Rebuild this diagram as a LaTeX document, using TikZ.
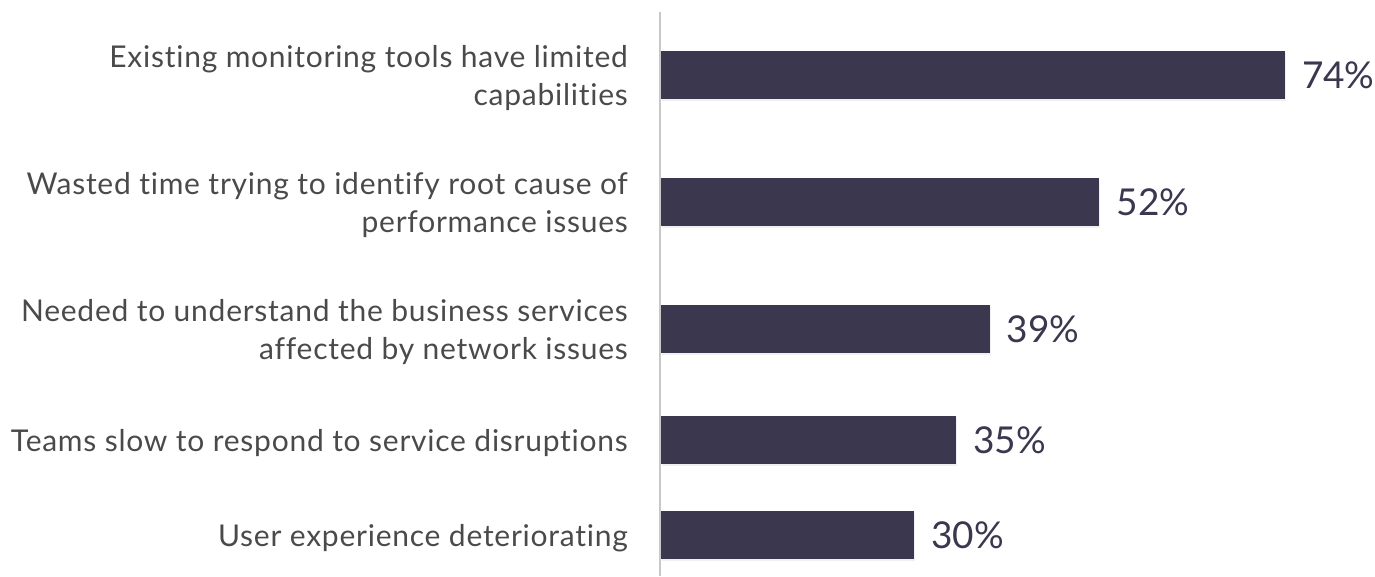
\documentclass[tikz,border=0pt]{standalone}
\usepackage{fontspec}
\setmainfont{Lato}
\newfontfamily\lblfont[LetterSpace=2.5, Ligatures={NoCommon}]{Lato}
\usepackage{tikz}
\usetikzlibrary{shadows}

\definecolor{barcol}{HTML}{3A374F}
\definecolor{labelcol}{HTML}{4A4A4A}
\definecolor{axiscol}{HTML}{C8C8C8}

\tikzset{
  bar/.style={fill=barcol, drop shadow={opacity=0.12, shadow xshift=1pt, shadow yshift=-2pt}},
  pct/.style={text=barcol, font=\fontsize{37}{44}\selectfont, inner sep=0pt},
  lbl/.style={text=labelcol, font=\lblfont\fontsize{30}{38.5}\selectfont, align=right, inner sep=0pt, anchor=east, yshift=-3pt}
}

\begin{document}
\begin{tikzpicture}[x=1pt, y=-1pt]
      \useasboundingbox (0,0) rectangle (1375,576);

      % axis
      \draw[axiscol, line width=1.5pt] (660,12) -- (660,576);

      % bars and values
      \foreach \y/\v/\n in {75/74/a, 202/52/b, 329/39/c, 440/35/d, 535/30/e}{
         \fill[bar] (661,\y-24) rectangle ({661+8.43*\v},\y+24);
         \node[pct, anchor=west] (v\n) at ({661+8.43*\v+17},\y) {\v\%};
      }

	\node[lbl] (la) at (628,75) {Existing monitoring tools have limited\\capabilities};
	\node[lbl] (lb) at (628,202) {Wasted time trying to identify root cause of\\performance issues};
	\node[lbl] (lc) at (628,329) {Needed to understand the business services\\affected by network issues};
	\node[lbl] (ld) at (628,440) {Teams slow to respond to service disruptions};
	\node[lbl] (le) at (628,535) {User experience deteriorating};
    \end{tikzpicture}
\end{document}
